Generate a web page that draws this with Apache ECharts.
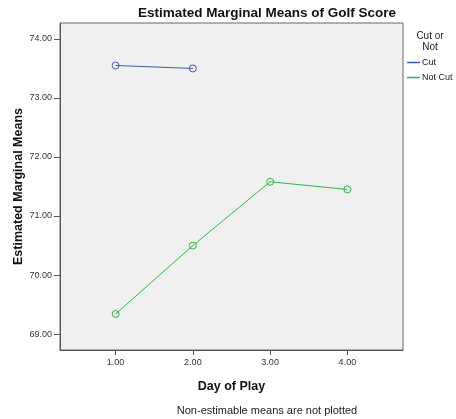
<!DOCTYPE html>
<html><head><meta charset="utf-8">
<script src="https://cdn.jsdelivr.net/npm/echarts@6/dist/echarts.min.js"></script>
<style>html,body{margin:0;padding:0;background:#fff}#c{width:456px;height:419px}</style>
</head><body><div id="c"></div>
<script>
var days = [1, 2, 3, 4];
var xTicks = [1, 2, 3, 4];
var yTicks = [69, 70, 71, 72, 73, 74];
var cutValues = [73.55, 73.50, null, null];
var notCutValues = [69.34, 70.50, 71.58, 71.45];
var seriesNames = ['Cut', 'Not Cut'];
var seriesColors = ['#3e58ac', '#2eb848'];

function pairs(vals){ var r=[]; for(var i=0;i<days.length;i++){ if(vals[i]!=null) r.push([days[i], vals[i]]); } return r; }
var F = 'Liberation Sans, Arial, sans-serif';
var chart = echarts.init(document.getElementById('c'));
chart.setOption({
  animation:false,
  backgroundColor:'#ffffff',
  title:[
    {text:'Estimated Marginal Means of Golf Score', left:138, top:6, padding:0, textStyle:{fontFamily:F,fontSize:13.5,fontWeight:'bold',color:'#111'}},
    {text:'Cut or\nNot', left:430, top:31, padding:0, textAlign:'center', textStyle:{fontFamily:F,fontSize:10,fontWeight:'normal',color:'#222',lineHeight:11}},
    {text:'Non-estimable means are not plotted', left:267, top:405, padding:0, textAlign:'center', textStyle:{fontFamily:F,fontSize:11,fontWeight:'normal',color:'#222'}}
  ],
  legend:{
    orient:'vertical', left:407, top:58, padding:0, itemWidth:13, itemHeight:1.5, itemGap:6,
    icon:'rect',
    data:seriesNames.map(function(n,i){return {name:n, itemStyle:{color:seriesColors[i],borderWidth:0}};}),
    textStyle:{fontFamily:F,fontSize:9,color:'#222',padding:[0,0,0,-3]}
  },
  grid:{left:60, top:23, width:343, height:327, outerBoundsMode:'none', show:true, backgroundColor:'#f0f0f0', borderColor:'#666', borderWidth:1},
  xAxis:{
    type:'value', min:0.28, max:4.72,
    name:'Day of Play', nameLocation:'middle', nameGap:30, nameMoveOverlap:false,
    nameTextStyle:{fontFamily:F,fontSize:12.5,fontWeight:'bold',color:'#111'},
    axisLine:{show:true,lineStyle:{color:'#555'}},
    axisTick:{show:true,length:5,customValues:xTicks,lineStyle:{color:'#555'}},
    axisLabel:{customValues:xTicks,fontFamily:F,fontSize:9,color:'#333',margin:8,formatter:function(v){return v.toFixed(2);}},
    splitLine:{show:false}
  },
  yAxis:{
    type:'value', min:68.73, max:74.27,
    name:'Estimated Marginal Means', nameLocation:'middle', nameGap:35, nameRotate:90, nameMoveOverlap:false,
    nameTextStyle:{fontFamily:F,fontSize:12.5,fontWeight:'bold',color:'#111'},
    axisLine:{show:true,lineStyle:{color:'#555'}},
    axisTick:{show:true,length:6,customValues:yTicks,lineStyle:{color:'#555'}},
    axisLabel:{customValues:yTicks,fontFamily:F,fontSize:9,color:'#333',margin:8,formatter:function(v){return v.toFixed(2);}},
    splitLine:{show:false}
  },
  series:[
    {name:seriesNames[0], type:'line', data:pairs(cutValues), symbol:'circle', symbolSize:7,
     color:seriesColors[0], lineStyle:{width:1,color:seriesColors[0]}, itemStyle:{color:'rgba(0,0,0,0)',borderColor:seriesColors[0],borderWidth:1}},
    {name:seriesNames[1], type:'line', data:pairs(notCutValues), symbol:'circle', symbolSize:7,
     color:seriesColors[1], lineStyle:{width:1,color:seriesColors[1]}, itemStyle:{color:'rgba(0,0,0,0)',borderColor:seriesColors[1],borderWidth:1}}
  ]
});
</script></body></html>
